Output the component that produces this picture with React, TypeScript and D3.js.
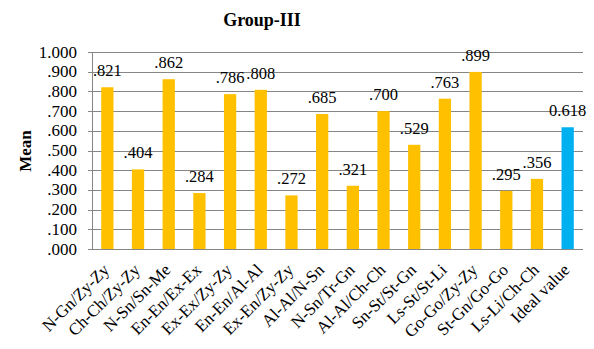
import React, { useEffect, useRef } from 'react';
import * as d3 from 'd3';

const categories = [
  'N-Gn/Zy-Zy', 'Ch-Ch/Zy-Zy', 'N-Sn/Sn-Me', 'En-En/Ex-Ex', 'Ex-Ex/Zy-Zy',
  'En-En/Al-Al', 'Ex-En/Zy-Zy', 'Al-Al/N-Sn', 'N-Sn/Tr-Gn', 'Al-Al/Ch-Ch',
  'Sn-St/St-Gn', 'Ls-St/St-Li', 'Go-Go/Zy-Zy', 'St-Gn/Go-Go', 'Ls-Li/Ch-Ch',
  'Ideal value',
];
const values = [0.821, 0.404, 0.862, 0.284, 0.786, 0.808, 0.272, 0.685, 0.321, 0.700, 0.529, 0.763, 0.899, 0.295, 0.356, 0.618];
const valueLabels = ['.821', '.404', '.862', '.284', '.786', '.808', '.272', '.685', '.321', '.700', '.529', '.763', '.899', '.295', '.356', '0.618'];
const yTicks = [0, 0.1, 0.2, 0.3, 0.4, 0.5, 0.6, 0.7, 0.8, 0.9, 1.0];

const fmt = (v: number) => (v >= 1 ? v.toFixed(3) : v.toFixed(3).replace(/^0/, ''));

const App = () => {
  const svgRef = useRef<SVGSVGElement>(null);

  useEffect(() => {
    const width = 594;
    const height = 349;
    const left = 92, right = 583, top = 52, bottom = 249;
    const font = '"Liberation Serif", "Times New Roman", serif';

    const svg = d3.select(svgRef.current);
    svg.selectAll('*').remove();
    svg.attr('width', width).attr('height', height);

    const x = d3.scaleBand<string>()
      .domain(categories)
      .range([left, right])
      .paddingInner(0.6)
      .paddingOuter(0.3);

    const y = d3.scaleLinear().domain([0, 1]).range([bottom, top]);

    // gridlines + y tick labels
    svg.append('g')
      .selectAll('line')
      .data(yTicks)
      .enter().append('line')
      .attr('x1', left - 4)
      .attr('x2', right)
      .attr('y1', d => Math.round(y(d)) + 0.5)
      .attr('y2', d => Math.round(y(d)) + 0.5)
      .attr('stroke', '#868686')
      .attr('stroke-width', 1);

    svg.append('g')
      .selectAll('text')
      .data(yTicks)
      .enter().append('text')
      .attr('x', 77)
      .attr('y', d => y(d) + 5.5)
      .attr('text-anchor', 'end')
      .style('font-family', font)
      .style('font-size', '17px')
      .text(d => fmt(d));

    svg.append('line')
      .attr('x1', left + 0.5).attr('x2', left + 0.5)
      .attr('y1', top).attr('y2', bottom)
      .attr('stroke', '#868686');

    // bars
    svg.append('g')
      .selectAll('rect')
      .data(values)
      .enter().append('rect')
      .attr('x', (d, i) => x(categories[i])!)
      .attr('width', x.bandwidth())
      .attr('y', d => y(d))
      .attr('height', d => y(0) - y(d))
      .attr('fill', (d, i) => (i === categories.length - 1 ? '#00B0F0' : '#FFC000'));

    // value labels
    svg.append('g')
      .selectAll('text')
      .data(values)
      .enter().append('text')
      .attr('x', (d, i) => x(categories[i])! + x.bandwidth() / 2)
      .attr('y', d => y(d) - 11)
      .attr('text-anchor', 'middle')
      .style('font-family', font)
      .style('font-size', '16.5px')
      .text((d, i) => valueLabels[i]);

    // category labels
    svg.append('g')
      .selectAll('text')
      .data(categories)
      .enter().append('text')
      .attr('transform', d => `translate(${x(d)! + x.bandwidth() / 2 + 3},${bottom + 22}) rotate(-45)`)
      .attr('text-anchor', 'end')
      .style('font-family', font)
      .style('font-size', '17px')
      .text(d => d);

    // title
    svg.append('text')
      .attr('x', 262)
      .attr('y', 26)
      .attr('text-anchor', 'middle')
      .style('font-family', font)
      .style('font-size', '18px')
      .style('font-weight', 'bold')
      .text('Group-III');

    svg.append('text')
      .attr('transform', 'translate(31,151) rotate(-90)')
      .attr('text-anchor', 'middle')
      .style('font-family', font)
      .style('font-size', '17px')
      .style('font-weight', 'bold')
      .text('Mean');
  }, []);

  return (
    <svg ref={svgRef} style={{ position: 'absolute', left: 0, top: 0, background: '#fff' }}></svg>
  );
};

export default App;
